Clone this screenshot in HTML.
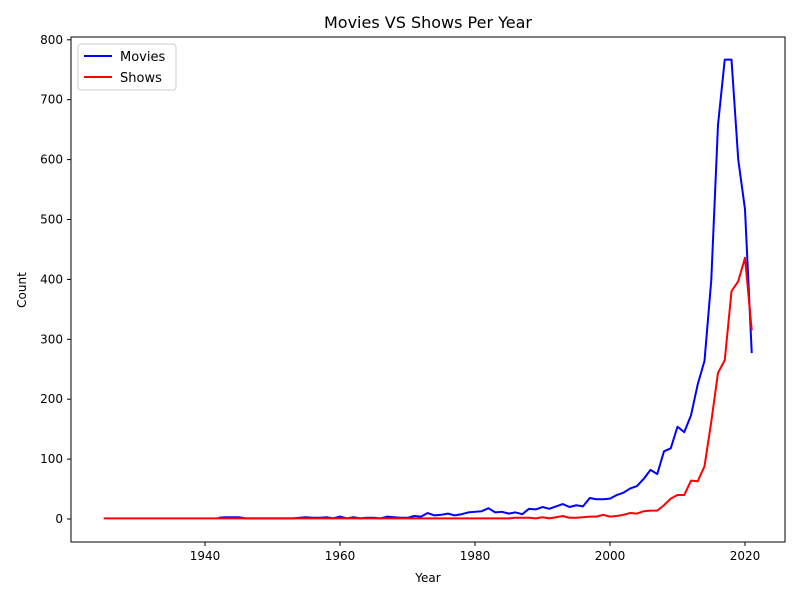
<!DOCTYPE html>
<html><head><meta charset="utf-8"><style>
body{margin:0;background:#fff;font-family:"Liberation Sans","DejaVu Sans",sans-serif}
svg text{font-family:"DejaVu Sans","Liberation Sans",sans-serif;fill:#000}
</style></head><body>
<svg id="chart" width="800" height="600" xmlns="http://www.w3.org/2000/svg">
<rect width="800" height="600" fill="#fff"/>
<text x="428" y="28" font-size="16" text-anchor="middle">Movies VS Shows Per Year</text>
<g id="axes"></g>
<g id="series"></g>
<rect x="71" y="37" width="714" height="505" fill="none" stroke="#000" stroke-width="1"/>
<text x="428" y="582" font-size="12" text-anchor="middle">Year</text>
<text x="26" y="290" font-size="12" text-anchor="middle" transform="rotate(-90 26 290)">Count</text>
<g>
<rect x="78" y="44" width="98" height="46" rx="3" fill="#fff" stroke="#ccc"/>
<line x1="84" y1="56" x2="112" y2="56" stroke="#0000ff" stroke-width="2"/>
<text x="120" y="61" font-size="13">Movies</text>
<line x1="84" y1="77" x2="112" y2="77" stroke="#ff0000" stroke-width="2"/>
<text x="120" y="82" font-size="13">Shows</text>
</g>
</svg>
<script>
const movieYears=[1942,1943,1944,1945,1946,1947,1948,1949,1950,1951,1952,1953,1954,1955,1956,1957,1958,1959,1960,1961,1962,1963,1964,1965,1966,1967,1968,1969,1970,1971,1972,1973,1974,1975,1976,1977,1978,1979,1980,1981,1982,1983,1984,1985,1986,1987,1988,1989,1990,1991,1992,1993,1994,1995,1996,1997,1998,1999,2000,2001,2002,2003,2004,2005,2006,2007,2008,2009,2010,2011,2012,2013,2014,2015,2016,2017,2018,2019,2020,2021];
const movieCounts=[2,3,3,3,1,1,1,1,1,1,1,1,2,3,2,2,3,1,4,1,3,1,2,2,1,4,3,2,2,5,4,10,6,7,9,6,8,11,12,13,18,11,12,9,11,8,17,16,20,17,21,25,20,23,21,35,33,33,34,40,44,51,55,67,82,75,113,118,154,145,173,225,264,398,658,767,767,600,517,277];
const showYears=[];for(let y=1925;y<=2021;y++)showYears.push(y);
const showCounts=[1,1,1,1,1,1,1,1,1,1,1,1,1,1,1,1,1,1,1,1,1,1,1,1,1,1,1,1,1,1,1,1,1,1,1,1,1,1,1,1,1,1,1,1,1,1,1,1,1,1,1,1,1,1,1,1,1,1,1,1,1,2,2,2,1,3,1,3,5,2,2,3,4,4,7,4,5,7,10,9,13,14,14,23,34,40,40,64,63,88,162,244,265,380,397,436,315];
const xTicks=[1940,1960,1980,2000,2020];
const yTicks=[0,100,200,300,400,500,600,700,800];
const X=v=>205+(v-1940)*6.75;
const Y=v=>519-v*0.599;
const NS="http://www.w3.org/2000/svg";
const axes=document.getElementById('axes'),ser=document.getElementById('series');
function mk(t,a,p){const e=document.createElementNS(NS,t);for(const k in a)e.setAttribute(k,a[k]);p.appendChild(e);return e;}
xTicks.forEach(v=>{
 const l=mk('line',{x1:X(v),x2:X(v),y1:542,y2:546,stroke:'#000'},axes);
 
 
 const t=mk('text',{x:X(v),y:560,'font-size':12,'text-anchor':'middle'},axes);t.textContent=v;
 
 
});
yTicks.forEach(v=>{
 const l=mk('line',{x1:67,x2:71,y1:Y(v),y2:Y(v),stroke:'#000'},axes);
 
 
 const t=mk('text',{x:63,y:Y(v)+4,'font-size':12,'text-anchor':'end'},axes);t.textContent=v;
 
 
});
function line(xs,ys,c,name){
 const p=mk('polyline',{points:xs.map((x,i)=>X(x)+','+Y(ys[i])).join(' '),fill:'none',stroke:c,'stroke-width':2,'stroke-linejoin':'round'},ser);
 
 
}
line(movieYears,movieCounts,'#0000ff','movies-line');
line(showYears,showCounts,'#ff0000','shows-line');
</script>
</body></html>
